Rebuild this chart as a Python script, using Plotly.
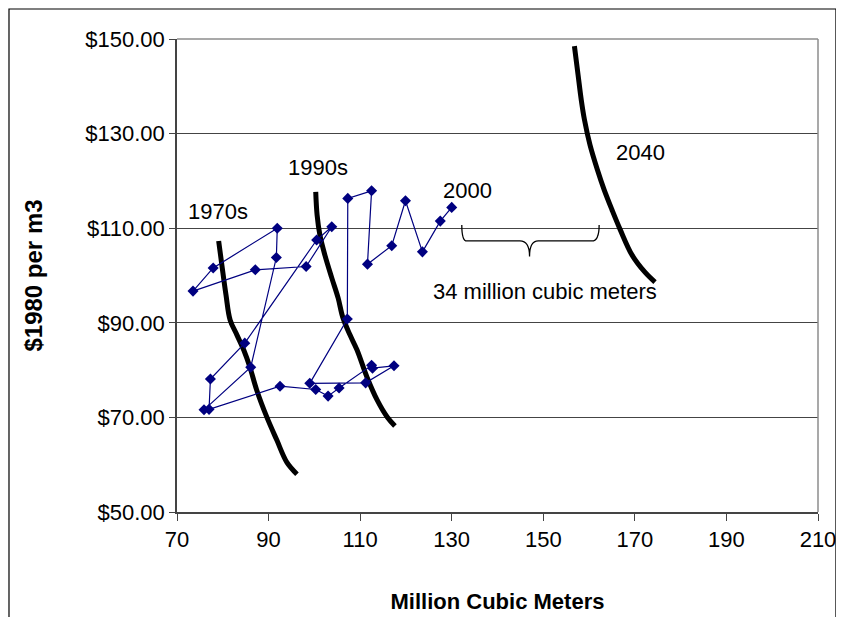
import plotly.graph_objects as go

# ---- data ----
years = list(range(1970, 2001))
quantity = [75.9, 86.1, 91.7, 91.9, 77.9, 73.5, 87.1, 98.2, 103.8, 100.5,
            84.8, 77.3, 77.0, 92.5, 100.3, 103.0, 105.4, 112.5, 112.7, 117.4,
            111.2, 99.0, 107.2, 107.3, 112.5, 111.6, 116.9, 119.9, 123.6, 127.5,
            130.0]
price = [71.6, 80.6, 103.8, 110.0, 101.6, 96.7, 101.2, 101.9, 110.3, 107.5,
         85.7, 78.1, 71.7, 76.6, 75.9, 74.5, 76.2, 81.0, 80.4, 80.9,
         77.3, 77.2, 90.8, 116.3, 117.9, 102.4, 106.3, 115.8, 105.0, 111.5,
         114.4]

demand_1970s_x = [79.1, 79.8, 80.7, 81.6, 83.1, 84.6, 85.9, 87.4, 89.6, 91.8, 94.0, 96.2]
demand_1970s_y = [107.3, 102.2, 95.9, 90.6, 87.4, 84.2, 80.7, 75.8, 70.1, 65.2, 60.5, 58.0]

demand_1990s_x = [100.3, 100.6, 101.2, 102.3, 103.8, 105.2, 106.2, 107.8, 109.3, 111.5, 113.7, 115.9, 117.6]
demand_1990s_y = [117.7, 112.8, 108.6, 104.3, 99.5, 95.2, 91.2, 87.4, 84.3, 78.5, 73.7, 70.1, 68.2]

demand_2040_x = [156.8, 157.6, 158.3, 159.0, 160.2, 161.8, 163.3, 165.0, 166.8, 169.4, 172.2, 174.4]
demand_2040_y = [148.5, 142.4, 137.1, 132.9, 127.6, 122.4, 118.1, 113.9, 109.7, 104.3, 100.7, 98.6]

x_ticks = [70, 90, 110, 130, 150, 170, 190, 210]
y_ticks = [50, 70, 90, 110, 130, 150]
y_tick_labels = ["$%.2f" % v for v in y_ticks]

labels_text = ["1970s", "1990s", "2000", "2040", "34 million cubic meters"]
labels_x = [78.9, 100.8, 133.5, 171.2, 150.4]
labels_y = [113.6, 122.9, 117.9, 125.9, 96.7]

# brace spanning the gap (data coordinates)
brace_x = [132.2, 133.3, 144.9, 147.0, 148.9, 160.6, 162.2]
brace_y_top, brace_y_mid, brace_y_tip = 110.7, 107.3, 104.0

FONT = "Liberation Sans, Arial, sans-serif"

fig = go.Figure()

for xs, ys in [(demand_1970s_x, demand_1970s_y),
               (demand_1990s_x, demand_1990s_y),
               (demand_2040_x, demand_2040_y)]:
    fig.add_trace(go.Scatter(x=xs, y=ys, mode="lines",
                             line=dict(color="black", width=5, shape="spline"),
                             hoverinfo="skip", showlegend=False))

fig.add_trace(go.Scatter(x=quantity, y=price, mode="lines+markers",
                         text=[str(y) for y in years],
                         line=dict(color="#000080", width=1.2),
                         marker=dict(symbol="diamond", size=8.5, color="#000080"),
                         showlegend=False))

for t, x, y in zip(labels_text, labels_x, labels_y):
    fig.add_annotation(x=x, y=y, text=t, showarrow=False,
                       font=dict(family=FONT, size=22, color="black"))

bx = brace_x
path = (f"M {bx[0]},{brace_y_top} Q {bx[0]},{brace_y_mid} {bx[1]},{brace_y_mid} "
        f"L {bx[2]},{brace_y_mid} Q {bx[3]},{brace_y_mid} {bx[3]},{brace_y_tip} "
        f"Q {bx[3]},{brace_y_mid} {bx[4]},{brace_y_mid} "
        f"L {bx[5]},{brace_y_mid} Q {bx[6]},{brace_y_mid} {bx[6]},{brace_y_top}")
fig.add_shape(type="path", path=path, xref="x", yref="y",
              line=dict(color="black", width=1.3))

# plot-area frame (top/right, gray) and outer chart border
fig.add_shape(type="line", xref="paper", yref="paper", x0=0, x1=1, y0=1, y1=1,
              line=dict(color="#8c8c8c", width=1.5))
fig.add_shape(type="line", xref="paper", yref="paper", x0=1, x1=1, y0=0, y1=1,
              line=dict(color="#8c8c8c", width=1.5))
fig.add_shape(type="rect", xref="paper", yref="paper",
              x0=-0.2621, x1=1.028, y0=-0.3, y1=1.0634,
              line=dict(color="black", width=1.2), layer="below")

fig.update_layout(
    width=836, height=609, autosize=False,
    margin=dict(l=169, r=26, t=31, b=105),
    paper_bgcolor="white", plot_bgcolor="white",
    font=dict(family=FONT, size=22, color="black"),
    xaxis=dict(range=[70, 210], tickvals=x_ticks, showgrid=False, zeroline=False,
               showline=True, linecolor="#444", linewidth=2, automargin=False,
               ticks="outside", ticklen=7, tickcolor="#444",
               title=dict(text="<b>Million Cubic Meters</b>", standoff=42,
                          font=dict(family=FONT, size=22))),
    yaxis=dict(range=[50, 150], tickvals=y_ticks, ticktext=y_tick_labels,
               showgrid=True, gridcolor="#444", gridwidth=1, zeroline=False,
               showline=True, linecolor="#444", linewidth=1.5, automargin=False,
               ticks="outside", ticklen=6, tickcolor="#444",
               title=dict(text="<b>$1980 per m3</b>", standoff=36,
                          font=dict(family=FONT, size=24))),
)

fig.write_html("out.html")
